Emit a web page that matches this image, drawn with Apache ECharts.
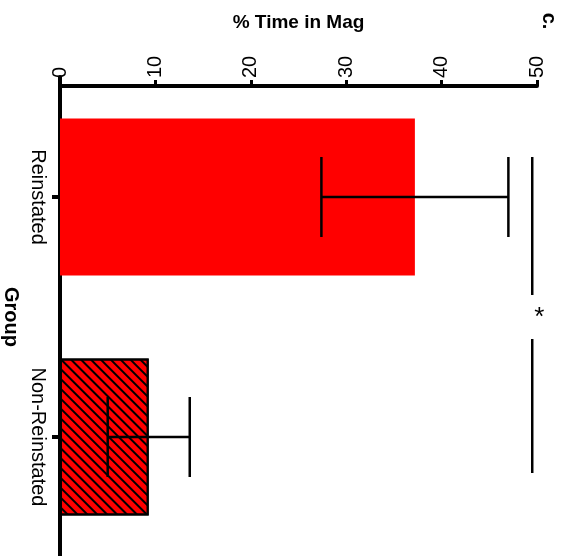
<!DOCTYPE html>
<html><head><meta charset="utf-8">
<script src="https://cdn.jsdelivr.net/npm/echarts@6/dist/echarts.min.js"></script>
<style>html,body{margin:0;padding:0;background:#fff}#c{width:572px;height:556px}</style>
</head><body><div id="c"></div>
<script>
const categories = ['Reinstated', 'Non-Reinstated'];
const means = [37.2, 9.3];
const sems = [9.8, 4.3];
const axisMin = 0, axisMax = 50, axisInterval = 10;
const axisTitle = '% Time in Mag';
const groupTitle = 'Group';
const panelLabel = 'c.';
const sigMark = '*';
const sigX = 49.5;

const FONT = "'Liberation Sans', Arial, sans-serif";
const chart = echarts.init(document.getElementById('c'));

const errData = categories.map((c, i) => [means[i] - sems[i], means[i] + sems[i], i]);

chart.setOption({
  animation: false,
  backgroundColor: '#fff',
  textStyle: { fontFamily: FONT },
  grid: { left: 60, right: 35, top: 77, bottom: -1, containLabel: false, outerBoundsMode: 'none' },
  xAxis: {
    type: 'value', position: 'top', offset: -9,
    min: axisMin, max: axisMax, interval: axisInterval,
    name: axisTitle, nameLocation: 'middle', nameGap: 54,
    nameTextStyle: { fontFamily: FONT, fontWeight: 'bold', fontSize: 19, color: '#000' },
    axisLine: { show: true, lineStyle: { color: '#000', width: 4 } },
    axisTick: { show: true, length: 6, lineStyle: { color: '#000', width: 3 } },
    axisLabel: { rotate: -90, fontSize: 20, margin: 8, color: '#000', fontFamily: FONT },
    splitLine: { show: false }
  },
  yAxis: {
    type: 'category', inverse: true, data: categories,
    name: groupTitle, nameLocation: 'middle', nameRotate: -90, nameGap: 37,
    nameTextStyle: { fontFamily: FONT, fontWeight: 'bold', fontSize: 20, color: '#000' },
    axisLine: { show: true, lineStyle: { color: '#000', width: 4 } },
    axisTick: { show: true, alignWithLabel: true, length: 8, lineStyle: { color: '#000', width: 4 } },
    axisLabel: { rotate: -90, fontSize: 20, margin: 12, color: '#000', fontFamily: FONT },
    splitLine: { show: false }
  },
  graphic: [{
    type: 'text', x: 549, y: 21, rotation: -Math.PI / 2,
    style: { text: panelLabel, font: 'bold 20px ' + FONT, fill: '#000', align: 'center', verticalAlign: 'middle' }
  }],
  series: [
    {
      type: 'bar', barWidth: '65.5%', z: 1,
      data: means.map((v, i) => i === 0
        ? { value: v, itemStyle: { color: '#ff0000' } }
        : { value: v, itemStyle: { color: '#ff0000', borderColor: '#000', borderWidth: 2,
            decal: { symbol: 'rect', symbolSize: 1, dashArrayX: [1, 0], dashArrayY: [2, 4.4], rotation: Math.PI / 4, color: '#000' } } })
    },
    {
      type: 'custom', z: 5,
      encode: { x: [0, 1], y: 2 },
      data: errData,
      renderItem: function (params, api) {
        const lo = api.coord([api.value(0), api.value(2)]);
        const hi = api.coord([api.value(1), api.value(2)]);
        const half = api.size([0, 1])[1] / 6;
        const st = { stroke: '#000', lineWidth: 2.5 };
        return { type: 'group', children: [
          { type: 'line', shape: { x1: lo[0], y1: lo[1], x2: hi[0], y2: hi[1] }, style: st },
          { type: 'line', shape: { x1: lo[0], y1: lo[1] - half, x2: lo[0], y2: lo[1] + half }, style: st },
          { type: 'line', shape: { x1: hi[0], y1: hi[1] - half, x2: hi[0], y2: hi[1] + half }, style: st }
        ]};
      }
    },
    {
      type: 'custom', z: 5,
      encode: { x: 0, y: 1 },
      data: [[sigX, 0, 1]],
      renderItem: function (params, api) {
        const a = api.coord([api.value(0), api.value(1)]);
        const b = api.coord([api.value(0), api.value(2)]);
        const band = api.size([0, 1])[1];
        const y1 = a[1] - band / 6, y2 = b[1] + band * 0.15;
        const mid = (a[1] + b[1]) / 2;
        const gap = 22;
        const st = { stroke: '#000', lineWidth: 2.5 };
        return { type: 'group', children: [
          { type: 'line', shape: { x1: a[0], y1: y1, x2: a[0], y2: mid - gap }, style: st },
          { type: 'line', shape: { x1: a[0], y1: mid + gap, x2: a[0], y2: y2 }, style: st },
          { type: 'text', x: a[0] + 7, y: mid + 1, style: { text: sigMark, font: '26px ' + FONT, fill: '#000', align: 'center', verticalAlign: 'middle' } }
        ]};
      }
    }
  ]
});
</script></body></html>
